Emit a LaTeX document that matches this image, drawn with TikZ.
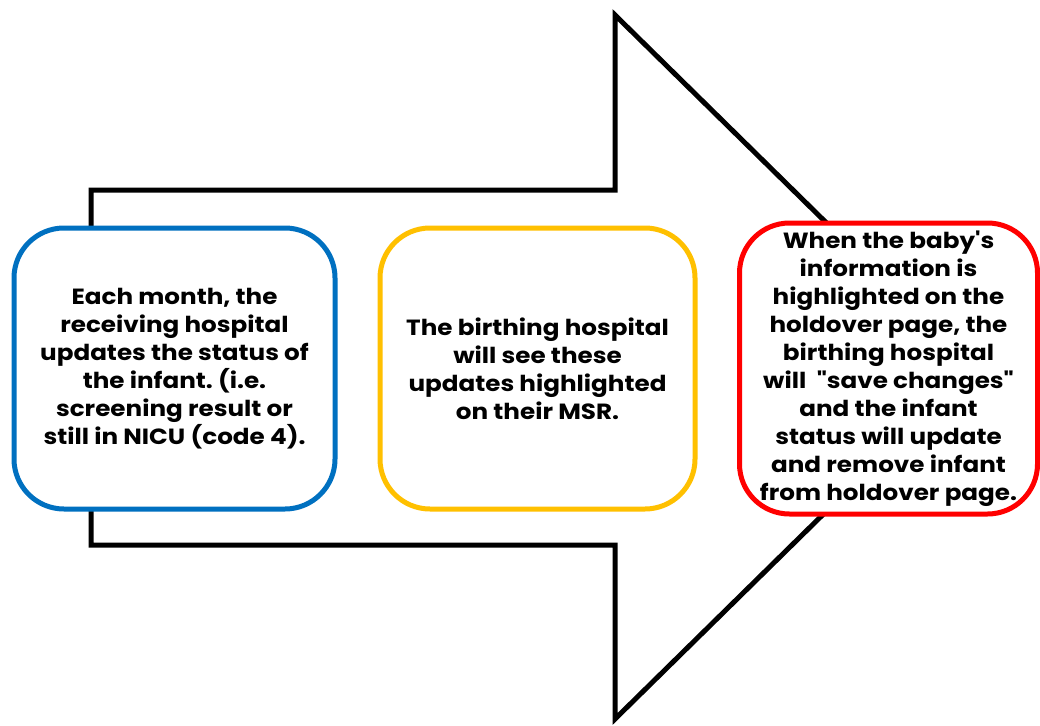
\documentclass[tikz,border=0pt]{standalone}
\usepackage{fontspec}
\setmainfont{Poppins}[Ligatures=TeXOff, FakeStretch=1.12]
\definecolor{bluebox}{HTML}{0070C0}
\definecolor{yellowbox}{HTML}{FFC000}
\definecolor{redbox}{HTML}{FF0000}
\tikzset{
  stepbox/.style={draw, line width=5pt, rounded corners=50pt, fill=white, align=center,
    inner sep=0pt, font=\fontsize{22}{28}\selectfont\bfseries\frenchspacing, text=black},
  bigarrow/.style={draw=black, line width=5pt, line join=miter, fill=white}
}
\begin{document}
\begin{tikzpicture}[x=1pt,y=-1pt]
\useasboundingbox (0,0) rectangle (1040,725);
\coordinate (s1) at (91,190);
\coordinate (s2) at (615,190);
\coordinate (t1) at (615,15);
\coordinate (apex) at (973,367);
\coordinate (t2) at (615,719);
\coordinate (s3) at (615,545);
\coordinate (s4) at (91,545);
\draw[bigarrow] (s1) -- (s2) -- (t1) -- (apex) -- (t2) -- (s3) -- (s4) -- cycle;
\node[stepbox, draw=bluebox, minimum width=321pt, minimum height=281pt] (b1) at (174.5,368.5)
  {Each month, the\\receiving hospital\\updates the status of\\the infant. (i.e.\\screening result or\\still in NICU (code 4).};
\node[stepbox, draw=yellowbox, minimum width=315pt, minimum height=281pt] (b2) at (537.5,368.5)
  {The birthing hospital\\will see these\\updates highlighted\\on their MSR.};
\node[stepbox, draw=redbox, minimum width=298pt, minimum height=291pt] (b3) at (888.5,368.5)
  {When the baby's\\information is\\highlighted on the\\holdover page, the\\birthing hospital\\will~~"save changes"\\and the infant\\status will update\\and remove infant\\from holdover page.};
\end{tikzpicture}
\end{document}
